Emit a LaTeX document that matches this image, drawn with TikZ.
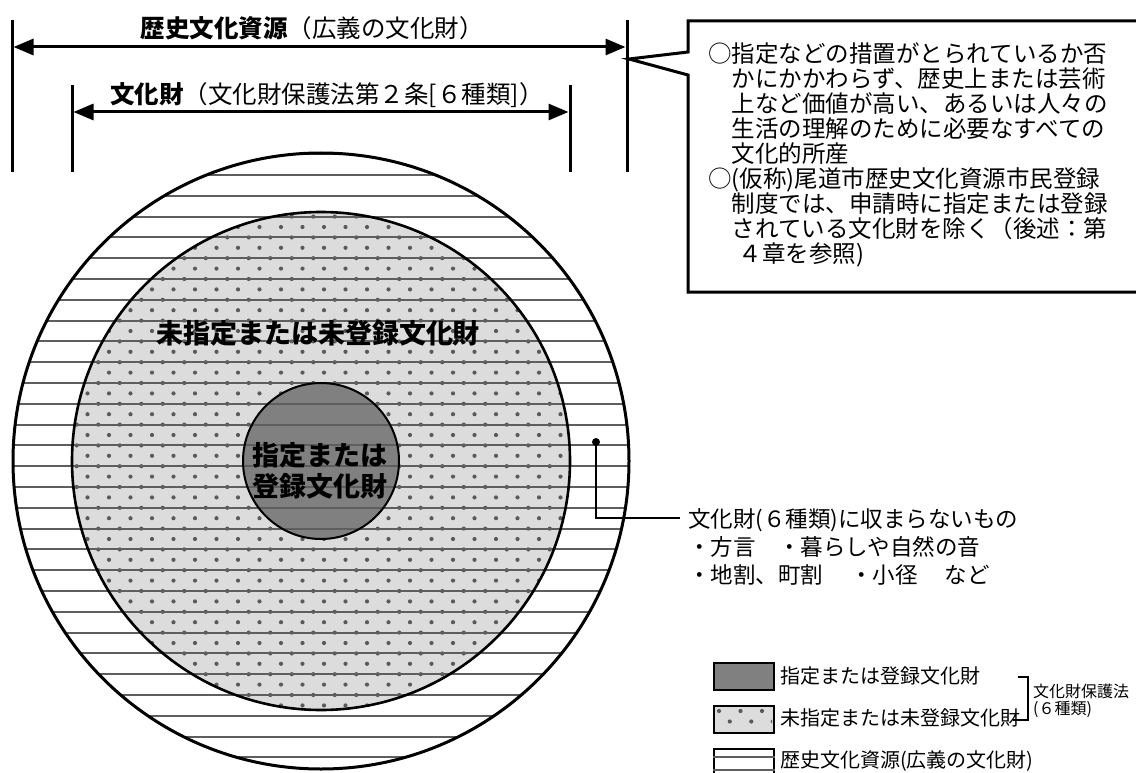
\documentclass[tikz,border=0pt]{standalone}
\usepackage{fontspec}
\setmainfont{Noto Sans CJK JP}
\usetikzlibrary{arrows.meta}
\definecolor{midfill}{HTML}{DCDCDC}
\definecolor{innerfill}{HTML}{808080}
\definecolor{stripec}{HTML}{5E5E5E}
\definecolor{dotc}{HTML}{5A5A5A}
\tikzset{
  dimline/.style={line width=3pt, {Triangle[length=20pt,width=16pt]}-{Triangle[length=20pt,width=16pt]}},
  vline/.style={line width=3pt},
  stripe/.style={stripec, line width=2pt},
  ring/.style={line width=3pt},
  headtext/.style={font=\fontsize{24.5}{27}\selectfont, inner sep=0},
  boxtext/.style={font=\fontsize{23.5}{25}\selectfont, align=left, inner sep=0, anchor=north west},
  circlabel/.style={font=\bfseries\fontsize{27}{31}\selectfont, align=center, inner sep=0},
  notetext/.style={font=\fontsize{22.5}{28}\selectfont, align=left, inner sep=0, anchor=north west},
  swatch/.style={draw, line width=2pt, minimum width=60pt, minimum height=27pt, inner sep=0, anchor=north west},
  legtext/.style={font=\fontsize{20}{22}\selectfont, anchor=west, inner sep=0},
  smalltext/.style={font=\fontsize{16}{17}\selectfont, align=left, anchor=west, inner sep=0},
}
\begin{document}
\begin{tikzpicture}[x=1pt,y=-1pt]
\useasboundingbox (0,0) rectangle (1136,773);
\fill[white] (0,0) rectangle (1136,773);

% ---- circles ----
\coordinate (c) at (321,461);
\fill[white] (c) circle (308);
\fill[midfill] (c) circle (249);
\begin{scope}
  \clip (c) circle (249);
  \foreach \k in {0,...,50} {
    \pgfmathsetmacro{\yy}{206.2+10.4*\k}
    \pgfmathsetmacro{\sh}{mod(\k,2)*10.75}
    \foreach \i in {0,...,24} {
      \fill[dotc] (66+\sh+21.5*\i,\yy) circle (2.1);
    }
  }
\end{scope}
\fill[innerfill] (c) circle (78);
\begin{scope}
  \clip (c) circle (308);
  \foreach \k in {-1,...,29} {
    \draw[stripe] (0,175+20.8*\k) -- (640,175+20.8*\k);
  }
\end{scope}
\draw[ring] (c) circle (308);
\draw[line width=2.6pt] (c) circle (249);
\draw[line width=2pt] (c) circle (78);

\node[circlabel] (unreg) at (318,333) {未指定または未登録文化財};
\node[circlabel] (reg) at (320,471) {指定または\\登録文化財};

% ---- dimension lines ----
\coordinate (v1t) at (12,20);   \coordinate (v1b) at (12,172);
\coordinate (v2t) at (627,20);  \coordinate (v2b) at (627,172);
\coordinate (v3t) at (72,85);   \coordinate (v3b) at (72,172);
\coordinate (v4t) at (570,85);  \coordinate (v4b) at (570,172);
\draw[vline] (v1t) -- (v1b);
\draw[vline] (v2t) -- (v2b);
\draw[vline] (v3t) -- (v3b);
\draw[vline] (v4t) -- (v4b);
\coordinate (a1l) at (13.5,47);  \coordinate (a1r) at (625.5,47);
\coordinate (a2l) at (73.5,112); \coordinate (a2r) at (568.5,112);
\draw[dimline] (a1l) -- (a1r);
\draw[dimline] (a2l) -- (a2r);
\node[headtext] (t1) at (312,28) {{\bfseries 歴史文化資源}（広義の文化財）};
\node[headtext] (t2) at (327,95) {{\bfseries 文化財}（文化財保護法第２条[６種類]）};

% ---- callout ----
\draw[line width=3pt, fill=white, line join=miter]
  (688,21) -- (1142,21) -- (1142,292) -- (688,292) -- (688,75) -- (629,59) -- (688,52) -- cycle;
\node[boxtext] (callout) at (708,42) {○指定などの措置がとられているか否\\
\hspace*{1em}かにかかわらず、歴史上または芸術\\
\hspace*{1em}上など価値が高い、あるいは人々の\\
\hspace*{1em}生活の理解のために必要なすべての\\
\hspace*{1em}文化的所産\\
○(仮称)尾道市歴史文化資源市民登録\\
\hspace*{1em}制度では、申請時に指定または登録\\
\hspace*{1em}されている文化財を除く（後述：第\\
\hspace*{1.3em}４章を参照)};

% ---- annotation ----
\node[circle, fill=black, inner sep=0, minimum size=8pt] (pt) at (596,442) {};
\coordinate (bend) at (596,518);
\coordinate (lend) at (680,518);
\draw[line width=2pt] (pt.center) -- (bend) -- (lend);
\node[notetext] (note) at (688,508) {文化財(６種類)に収まらないもの\\
・方言　・暮らしや自然の音\\
・地割、町割\hspace{1.2em}・小径\hspace{1.2em}など};

% ---- legend ----
\node[swatch, fill=innerfill] (lg1) at (713,662) {};
\node[swatch, fill=midfill] (lg2) at (713,705) {};
\begin{scope}
  \clip (714,706) rectangle (772,731);
  \foreach \yy/\sh in {711/0,721.5/10.75} {
    \foreach \i in {0,...,3} { \fill[dotc] (719+\sh+21.5*\i,\yy) circle (2.1); }
  }
\end{scope}
\node[swatch, fill=white, minimum height=40pt] (lg3) at (713,748) {};
\draw[stripe] (lg3.west |- 0,757) -- (lg3.east |- 0,757);
\draw[stripe] (lg3.west |- 0,770) -- (lg3.east |- 0,770);
\node[legtext] (lt1) at (780,676) {指定または登録文化財};
\node[legtext] (lt2) at (780,718) {未指定または未登録文化財};
\node[legtext] (lt3) at (780,761) {歴史文化資源(広義の文化財)};
\coordinate (b1) at (1018,677);
\coordinate (b2) at (1028,677);
\coordinate (b3) at (1028,720);
\coordinate (b4) at (1013,720);
\draw[line width=2pt] (b1) -- (b2) -- (b3) -- (b4);
\node[smalltext] (law) at (1033,701) {文化財保護法\\(６種類)};
\end{tikzpicture}
\end{document}
